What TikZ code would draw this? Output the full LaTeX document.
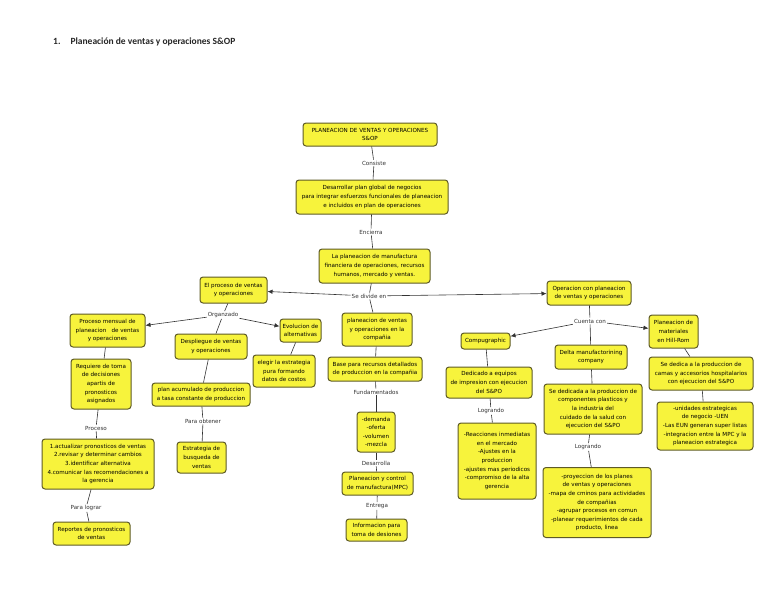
\documentclass[tikz,border=0pt]{standalone}
\usepackage{fontspec}
\setmainfont{DejaVu Sans}
\newfontfamily\titlefont{Carlito}
\usetikzlibrary{arrows.meta}
\definecolor{boxfill}{HTML}{F7F33C}
\definecolor{boxline}{HTML}{5E5A26}
\definecolor{linkc}{HTML}{333333}
\tikzset{
  box/.style={draw=boxline, fill=boxfill, line width=1pt, rounded corners=3pt,
    align=center, inner sep=1.5pt, font=\fontsize{5.6}{8.6}\selectfont, text=black},
  lbl/.style={fill=white, inner sep=1pt, font=\fontsize{5.6}{8.6}\selectfont, text=linkc},
  con/.style={draw=linkc, line width=0.6pt},
  arr/.style={draw=linkc, line width=0.6pt, -{Latex[length=5pt,width=4.5pt]}}
}
\begin{document}
\begin{tikzpicture}[x=1pt,y=-1pt]
\useasboundingbox (0,0) rectangle (768,594);
% title
\node[anchor=west, inner sep=0, font=\titlefont\bfseries\fontsize{9.5}{11}\selectfont, text=black!85] (title) at (53,42) {1.\hspace{10pt}Planeación de ventas y operaciones S\&OP};

% boxes
\node[box, minimum width=134pt, minimum height=23pt] (top) at (370,134.5) {PLANEACION DE VENTAS Y OPERACIONES\\S\&OP};
\node[box, minimum width=152pt, minimum height=34pt] (d1) at (372,197) {Desarrollar plan global de negocios\\para integrar esfuerzos funcionales de planeacion\\e incluidos en plan de operaciones};
\node[box, minimum width=111pt, minimum height=34pt] (d2) at (374.5,266) {La planeacion de manufactura\\financiera de operaciones, recursos\\humanos, mercado y ventas.};
\node[box, minimum width=67pt, minimum height=26pt] (ep) at (233.5,290) {El proceso de ventas\\y operaciones};
\node[box, minimum width=84pt, minimum height=24pt] (oc) at (589,293) {Operacion con planeacion\\de ventas y operaciones};

\node[box, minimum width=75pt, minimum height=33pt] (pm) at (107.5,330.5) {Proceso mensual de\\planeacion\ \ \ de ventas\\y operaciones};
\node[box, minimum width=72pt, minimum height=25pt] (dv) at (211,346.5) {Despliegue de ventas\\y operaciones};
\node[box, minimum width=41pt, minimum height=23pt] (ev) at (300.5,330.5) {Evolucion de\\alternativas};
\node[box, minimum width=60pt, minimum height=50pt] (rq) at (101,384) {Requiere de toma\\de decisiones\\apartis de\\pronosticos\\asignados};
\node[box, minimum width=62pt, minimum height=32pt] (el) at (284,371) {elegir la estrategia\\pura formando\\datos de costos};
\node[box, minimum width=98pt, minimum height=23pt] (pa) at (201,394.5) {plan acumulado de produccion\\a tasa constante de produccion};
\node[box, minimum width=49pt, minimum height=31pt] (es) at (201.5,457.5) {Estrategia de\\busqueda de\\ventas};
\node[box, minimum width=112pt, minimum height=50pt] (li) at (98,464) {1.actualizar pronosticos de ventas\\2.revisar y determinar cambios\\3.identificar alternativa\\4.comunicar las recomendaciones a\\la gerencia};
\node[box, minimum width=77pt, minimum height=23pt] (rp) at (91.5,533.5) {Reportes de pronosticos\\de ventas};

\node[box, minimum width=70pt, minimum height=33pt] (pc) at (377,329.5) {planeacion de ventas\\y operaciones en la\\compañia};
\node[box, minimum width=94pt, minimum height=24pt] (br) at (375,369) {Base para recursos detallados\\de produccion en la compañia};
\node[box, minimum width=38pt, minimum height=40pt] (dd) at (376,432) {-demanda\\-oferta\\-volumen\\-mezcla};
\node[box, minimum width=71pt, minimum height=23pt] (mpc) at (377.5,483.5) {Planeacion y control\\de manufactura(MPC)};
\node[box, minimum width=61pt, minimum height=22pt] (inf) at (376.5,530) {Informacion para\\toma de desiones};

\node[box, minimum width=49pt, minimum height=16pt] (cg) at (485.5,341) {Compugraphic};
\node[box, minimum width=72pt, minimum height=24pt] (dm) at (591,357) {Delta manufactorining\\company};
\node[box, minimum width=49pt, minimum height=33pt] (hr) at (673.5,331.5) {Planeacion de\\materiales\\en Hill-Rom};
\node[box, minimum width=86pt, minimum height=31pt] (de) at (489,382.5) {Dedicado a equipos\\de impresion con ejecucion\\del S\&PO};
\node[box, minimum width=98pt, minimum height=50pt] (sd) at (593,409) {Se dedicada a la produccion de\\componentes plasticos y\\la industria del\\cuidado de la salud con\\ejecucion del S\&PO};
\node[box, minimum width=104pt, minimum height=33pt] (sc) at (701,373.5) {Se dedica a la produccion de\\camas y accesorios hospitalarios\\con ejecucion del S\&PO};
\node[box, minimum width=96pt, minimum height=48pt] (un) at (705,426) {-unidades estrategicas\\de negocio -UEN\\-Las EUN generan super listas\\-integracion entre la MPC y la\\planeacion estrategica};
\node[box, minimum width=78pt, minimum height=76pt] (ra) at (497,461) {-Reacciones inmediatas\\en el mercado\\-Ajustes en la\\produccion\\-ajustes mas periodicos\\-compromiso de la alta\\gerencia};
\node[box, minimum width=108pt, minimum height=70pt] (pr) at (597,502.5) {-proyeccion de los planes\\de ventas y operaciones\\-mapa de cminos para actividades\\de compañias\\-agrupar procesos en comun\\-planear requerimientos de cada\\producto, linea};

% labels
\node[lbl] (consiste) at (374,163) {Consiste};
\node[lbl] (encierra) at (371,232) {Encierra};
\node[lbl] (divide) at (369,296) {Se divide en};
\node[lbl] (organ) at (223,315) {Organzado};
\node[lbl] (cuenta) at (590,321) {Cuenta con};
\node[lbl] (proceso) at (96,428) {Proceso};
\node[lbl] (paralograr) at (86,508) {Para lograr};
\node[lbl] (paraobt) at (203,421) {Para obtener};
\node[lbl] (fund) at (376,392) {Fundamentados};
\node[lbl] (desa) at (376,463) {Desarrolla};
\node[lbl] (entrega) at (377,506) {Entrega};
\node[lbl] (log1) at (491,411) {Logrando};
\node[lbl] (log2) at (588,447) {Logrando};

% connectors
\draw[con] (top) -- (consiste);
\draw[con] (consiste) -- (d1);
\draw[con] (d1) -- (encierra);
\draw[con] (encierra) -- (d2);
\draw[con] (d2) -- (divide);
\draw[arr] (divide) -- (ep);
\draw[arr] (divide) -- (oc);
\draw[con] (divide) -- (pc);

\draw[con] (ep) -- (organ);
\draw[arr] (organ) -- (pm);
\draw[arr] (organ) -- (ev);
\draw[con] (organ) -- (dv);
\draw[con] (pm) -- (rq);
\draw[con] (rq) -- (proceso);
\draw[con] (proceso) -- (li);
\draw[con] (li) -- (paralograr);
\draw[con] (paralograr) -- (rp);
\draw[con] (dv) -- (pa);
\draw[con] (pa) -- (paraobt);
\draw[con] (paraobt) -- (es);
\draw[con] (ev) -- (el);

\draw[con] (pc) -- (br);
\draw[con] (br) -- (fund);
\draw[con] (fund) -- (dd);
\draw[con] (dd) -- (desa);
\draw[con] (desa) -- (mpc);
\draw[con] (mpc) -- (entrega);
\draw[con] (entrega) -- (inf);

\draw[con] (oc) -- (cuenta);
\draw[arr] (cuenta) -- (cg);
\draw[arr] (cuenta) -- (hr);
\draw[con] (cuenta) -- (dm);
\draw[con] (cg) -- (de);
\draw[con] (de) -- (log1);
\draw[con] (log1) -- (ra);
\draw[con] (dm) -- (sd);
\draw[con] (sd) -- (log2);
\draw[con] (log2) -- (pr);
\draw[con] (hr) -- (sc);
\draw[con] (sc) -- (un);
\end{tikzpicture}
\end{document}
